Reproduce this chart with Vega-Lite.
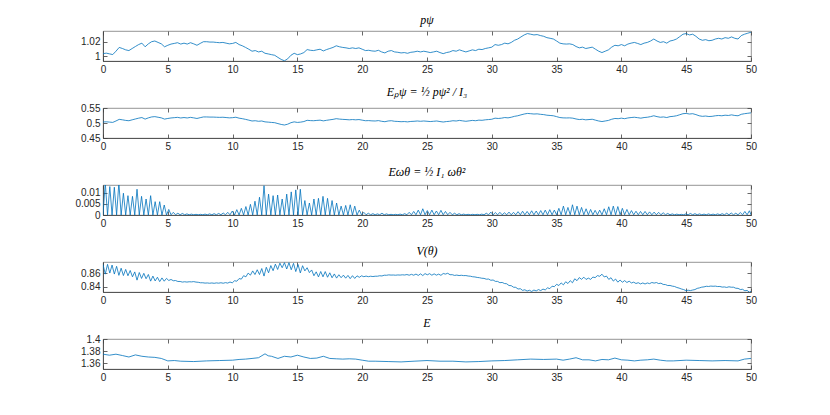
{
  "$schema": "https://vega.github.io/schema/vega-lite/v6.json",
  "autosize": {"type": "none"},
  "padding": {"left": 103, "top": 31, "right": 727, "bottom": 384},
  "background": "white",
  "spacing": 47,
  "bounds": "flush",
  "config": {
    "view": {"stroke": "#7a7a7a", "strokeWidth": 0.8},
    "axis": {
      "grid": false,
      "domainColor": "#404040",
      "domainWidth": 0.8,
      "tickColor": "#404040",
      "tickWidth": 0.8,
      "tickSize": -4,
      "labelPadding": 7,
      "labelColor": "#262626",
      "labelFont": "Liberation Sans",
      "labelFontSize": 10,
      "labelFlush": false,
      "labelOverlap": false,
      "labelBound": false,
      "title": null
    },
    "title": {
      "font": "Liberation Serif",
      "fontStyle": "italic",
      "fontWeight": "normal",
      "fontSize": 12,
      "color": "#000000",
      "offset": 4,
      "anchor": "middle"
    }
  },
  "datasets": {
    "slow": [
      {"t":0,"p":1.0033,"ep":0.5033},{"t":0.25,"p":1.004,"ep":0.504},{"t":0.5,"p":1.003,"ep":0.503},{"t":0.75,"p":1.002,"ep":0.502},
      {"t":1,"p":1.0067,"ep":0.5067},{"t":1.25,"p":1.012,"ep":0.5121},{"t":1.5,"p":1.0105,"ep":0.5106},{"t":1.75,"p":1.0086,"ep":0.5086},
      {"t":2,"p":1.0076,"ep":0.5076},{"t":2.25,"p":1.0105,"ep":0.5106},{"t":2.5,"p":1.0133,"ep":0.5134},{"t":2.75,"p":1.016,"ep":0.5161},
      {"t":3,"p":1.018,"ep":0.5182},{"t":3.25,"p":1.0129,"ep":0.513},{"t":3.5,"p":1.017,"ep":0.5171},{"t":3.75,"p":1.02,"ep":0.5202},
      {"t":4,"p":1.021,"ep":0.5212},{"t":4.25,"p":1.019,"ep":0.5192},{"t":4.5,"p":1.017,"ep":0.5171},{"t":4.75,"p":1.0129,"ep":0.513},
      {"t":5,"p":1.015,"ep":0.5151},{"t":5.25,"p":1.0167,"ep":0.5168},{"t":5.5,"p":1.0176,"ep":0.5178},{"t":5.75,"p":1.0186,"ep":0.5188},
      {"t":6,"p":1.0167,"ep":0.5168},{"t":6.25,"p":1.018,"ep":0.5182},{"t":6.5,"p":1.0167,"ep":0.5168},{"t":6.75,"p":1.0186,"ep":0.5188},
      {"t":7,"p":1.017,"ep":0.5171},{"t":7.25,"p":1.015,"ep":0.5151},{"t":7.5,"p":1.0176,"ep":0.5178},{"t":7.75,"p":1.02,"ep":0.5202},
      {"t":8,"p":1.02,"ep":0.5202},{"t":8.25,"p":1.0195,"ep":0.5197},{"t":8.5,"p":1.0195,"ep":0.5197},{"t":8.75,"p":1.019,"ep":0.5192},
      {"t":9,"p":1.0186,"ep":0.5188},{"t":9.25,"p":1.019,"ep":0.5192},{"t":9.5,"p":1.018,"ep":0.5182},{"t":9.75,"p":1.017,"ep":0.5171},
      {"t":10,"p":1.0176,"ep":0.5178},{"t":10.25,"p":1.019,"ep":0.5192},{"t":10.5,"p":1.016,"ep":0.5161},{"t":10.75,"p":1.0143,"ep":0.5144},
      {"t":11,"p":1.012,"ep":0.5121},{"t":11.25,"p":1.0095,"ep":0.5095},{"t":11.5,"p":1.0067,"ep":0.5067},{"t":11.75,"p":1.0076,"ep":0.5076},
      {"t":12,"p":1.0057,"ep":0.5057},{"t":12.25,"p":1.0067,"ep":0.5067},{"t":12.5,"p":1.0038,"ep":0.5038},{"t":12.75,"p":1.0029,"ep":0.5029},
      {"t":13,"p":1.0019,"ep":0.5019},{"t":13.25,"p":1.001,"ep":0.501},{"t":13.5,"p":0.998,"ep":0.498},{"t":13.75,"p":0.9952,"ep":0.4952},
      {"t":14,"p":0.9933,"ep":0.4933},{"t":14.25,"p":0.996,"ep":0.496},{"t":14.5,"p":1.001,"ep":0.501},{"t":14.75,"p":1.0038,"ep":0.5038},
      {"t":15,"p":1.0019,"ep":0.5019},{"t":15.25,"p":1.0029,"ep":0.5029},{"t":15.5,"p":1.0048,"ep":0.5048},{"t":15.75,"p":1.009,"ep":0.509},
      {"t":16,"p":1.008,"ep":0.508},{"t":16.25,"p":1.0076,"ep":0.5076},{"t":16.5,"p":1.0086,"ep":0.5086},{"t":16.75,"p":1.0095,"ep":0.5095},
      {"t":17,"p":1.0071,"ep":0.5071},{"t":17.25,"p":1.009,"ep":0.509},{"t":17.5,"p":1.0105,"ep":0.5106},{"t":17.75,"p":1.012,"ep":0.5121},
      {"t":18,"p":1.0143,"ep":0.5144},{"t":18.25,"p":1.0129,"ep":0.513},{"t":18.5,"p":1.012,"ep":0.5121},{"t":18.75,"p":1.0114,"ep":0.5115},
      {"t":19,"p":1.0105,"ep":0.5106},{"t":19.25,"p":1.0114,"ep":0.5115},{"t":19.5,"p":1.0105,"ep":0.5106},{"t":19.75,"p":1.0114,"ep":0.5115},
      {"t":20,"p":1.0095,"ep":0.5095},{"t":20.25,"p":1.0076,"ep":0.5076},{"t":20.5,"p":1.008,"ep":0.508},{"t":20.75,"p":1.0071,"ep":0.5071},
      {"t":21,"p":1.0067,"ep":0.5067},{"t":21.25,"p":1.008,"ep":0.508},{"t":21.5,"p":1.0057,"ep":0.5057},{"t":21.75,"p":1.0043,"ep":0.5043},
      {"t":22,"p":1.0067,"ep":0.5067},{"t":22.25,"p":1.0076,"ep":0.5076},{"t":22.5,"p":1.0057,"ep":0.5057},{"t":22.75,"p":1.0052,"ep":0.5052},
      {"t":23,"p":1.0043,"ep":0.5043},{"t":23.25,"p":1.0048,"ep":0.5048},{"t":23.5,"p":1.0038,"ep":0.5038},{"t":23.75,"p":1.0052,"ep":0.5052},
      {"t":24,"p":1.0057,"ep":0.5057},{"t":24.25,"p":1.0067,"ep":0.5067},{"t":24.5,"p":1.0057,"ep":0.5057},{"t":24.75,"p":1.0067,"ep":0.5067},
      {"t":25,"p":1.0058,"ep":0.5058},{"t":25.25,"p":1.0048,"ep":0.5048},{"t":25.5,"p":1.0057,"ep":0.5057},{"t":25.75,"p":1.0067,"ep":0.5067},
      {"t":26,"p":1.0048,"ep":0.5048},{"t":26.25,"p":1.0033,"ep":0.5033},{"t":26.5,"p":1.0048,"ep":0.5048},{"t":26.75,"p":1.0057,"ep":0.5057},
      {"t":27,"p":1.0076,"ep":0.5076},{"t":27.25,"p":1.0067,"ep":0.5067},{"t":27.5,"p":1.0086,"ep":0.5086},{"t":27.75,"p":1.0071,"ep":0.5071},
      {"t":28,"p":1.0057,"ep":0.5057},{"t":28.25,"p":1.0071,"ep":0.5071},{"t":28.5,"p":1.0086,"ep":0.5086},{"t":28.75,"p":1.0076,"ep":0.5076},
      {"t":29,"p":1.0095,"ep":0.5095},{"t":29.25,"p":1.009,"ep":0.509},{"t":29.5,"p":1.0105,"ep":0.5106},{"t":29.75,"p":1.0114,"ep":0.5115},
      {"t":30,"p":1.0124,"ep":0.5125},{"t":30.25,"p":1.016,"ep":0.5161},{"t":30.5,"p":1.015,"ep":0.5151},{"t":30.75,"p":1.016,"ep":0.5161},
      {"t":31,"p":1.018,"ep":0.5182},{"t":31.25,"p":1.017,"ep":0.5171},{"t":31.5,"p":1.019,"ep":0.5192},{"t":31.75,"p":1.022,"ep":0.5222},
      {"t":32,"p":1.0238,"ep":0.5241},{"t":32.25,"p":1.0267,"ep":0.5271},{"t":32.5,"p":1.0295,"ep":0.5299},{"t":32.75,"p":1.0314,"ep":0.5319},
      {"t":33,"p":1.0305,"ep":0.531},{"t":33.25,"p":1.0295,"ep":0.5299},{"t":33.5,"p":1.03,"ep":0.5305},{"t":33.75,"p":1.0286,"ep":0.529},
      {"t":34,"p":1.0276,"ep":0.528},{"t":34.25,"p":1.0257,"ep":0.526},{"t":34.5,"p":1.0248,"ep":0.5251},{"t":34.75,"p":1.0238,"ep":0.5241},
      {"t":35,"p":1.021,"ep":0.5212},{"t":35.25,"p":1.018,"ep":0.5182},{"t":35.5,"p":1.017,"ep":0.5171},{"t":35.75,"p":1.0167,"ep":0.5168},
      {"t":36,"p":1.017,"ep":0.5171},{"t":36.25,"p":1.016,"ep":0.5161},{"t":36.5,"p":1.0133,"ep":0.5134},{"t":36.75,"p":1.0114,"ep":0.5115},
      {"t":37,"p":1.0124,"ep":0.5125},{"t":37.25,"p":1.0105,"ep":0.5106},{"t":37.5,"p":1.0114,"ep":0.5115},{"t":37.75,"p":1.0124,"ep":0.5125},
      {"t":38,"p":1.0095,"ep":0.5095},{"t":38.25,"p":1.0067,"ep":0.5067},{"t":38.5,"p":1.0048,"ep":0.5048},{"t":38.75,"p":1.0067,"ep":0.5067},
      {"t":39,"p":1.0086,"ep":0.5086},{"t":39.25,"p":1.0124,"ep":0.5125},{"t":39.5,"p":1.015,"ep":0.5151},{"t":39.75,"p":1.0143,"ep":0.5144},
      {"t":40,"p":1.016,"ep":0.5161},{"t":40.25,"p":1.0143,"ep":0.5144},{"t":40.5,"p":1.0167,"ep":0.5168},{"t":40.75,"p":1.018,"ep":0.5182},
      {"t":41,"p":1.019,"ep":0.5192},{"t":41.25,"p":1.0176,"ep":0.5178},{"t":41.5,"p":1.016,"ep":0.5161},{"t":41.75,"p":1.018,"ep":0.5182},
      {"t":42,"p":1.019,"ep":0.5192},{"t":42.25,"p":1.021,"ep":0.5212},{"t":42.5,"p":1.0238,"ep":0.5241},{"t":42.75,"p":1.021,"ep":0.5212},
      {"t":43,"p":1.019,"ep":0.5192},{"t":43.25,"p":1.02,"ep":0.5202},{"t":43.5,"p":1.018,"ep":0.5182},{"t":43.75,"p":1.021,"ep":0.5212},
      {"t":44,"p":1.022,"ep":0.5222},{"t":44.25,"p":1.0238,"ep":0.5241},{"t":44.5,"p":1.0271,"ep":0.5275},{"t":44.75,"p":1.0305,"ep":0.531},
      {"t":45,"p":1.0314,"ep":0.5319},{"t":45.25,"p":1.0295,"ep":0.5299},{"t":45.5,"p":1.0305,"ep":0.531},{"t":45.75,"p":1.0276,"ep":0.528},
      {"t":46,"p":1.0238,"ep":0.5241},{"t":46.25,"p":1.022,"ep":0.5222},{"t":46.5,"p":1.0229,"ep":0.5232},{"t":46.75,"p":1.0214,"ep":0.5216},
      {"t":47,"p":1.022,"ep":0.5222},{"t":47.25,"p":1.0238,"ep":0.5241},{"t":47.5,"p":1.0248,"ep":0.5251},{"t":47.75,"p":1.0238,"ep":0.5241},
      {"t":48,"p":1.0257,"ep":0.526},{"t":48.25,"p":1.0248,"ep":0.5251},{"t":48.5,"p":1.0267,"ep":0.5271},{"t":48.75,"p":1.0248,"ep":0.5251},
      {"t":49,"p":1.0238,"ep":0.5241},{"t":49.25,"p":1.0286,"ep":0.529},{"t":49.5,"p":1.0305,"ep":0.531},{"t":49.75,"p":1.0319,"ep":0.5324},
      {"t":50,"p":1.0333,"ep":0.5339}
    ],
    "osc": [
      {"t":0,"w":0,"v":0.873},{"t":0.175,"w":0.0145,"v":0.8585},{"t":0.35,"w":0,"v":0.873},{"t":0.525,"w":0.0128,"v":0.8601},
      {"t":0.7,"w":0,"v":0.872},{"t":0.875,"w":0.0125,"v":0.8586},{"t":1.05,"w":0,"v":0.8701},{"t":1.225,"w":0.0145,"v":0.8567},
      {"t":1.4,"w":0,"v":0.8673},{"t":1.575,"w":0.0098,"v":0.8564},{"t":1.75,"w":0,"v":0.8655},{"t":1.925,"w":0.0087,"v":0.8561},
      {"t":2.1,"w":0,"v":0.8639},{"t":2.275,"w":0.0084,"v":0.8545},{"t":2.45,"w":0,"v":0.8618},{"t":2.625,"w":0.0116,"v":0.8496},
      {"t":2.8,"w":0,"v":0.8609},{"t":2.975,"w":0.0084,"v":0.8521},{"t":3.15,"w":0,"v":0.8597},{"t":3.325,"w":0.0072,"v":0.8517},
      {"t":3.5,"w":0,"v":0.858},{"t":3.675,"w":0.0087,"v":0.8481},{"t":3.85,"w":0,"v":0.8556},{"t":4.025,"w":0.006,"v":0.8484},
      {"t":4.2,"w":0,"v":0.8539},{"t":4.375,"w":0.006,"v":0.8474},{"t":4.55,"w":0,"v":0.8529},{"t":4.725,"w":0.0045,"v":0.848},
      {"t":4.9,"w":0,"v":0.8522},{"t":5.075,"w":0.0025,"v":0.8491},{"t":5.25,"w":0.0001,"v":0.8506},{"t":5.425,"w":0.0012,"v":0.8487},
      {"t":5.6,"w":0.0001,"v":0.849},{"t":5.775,"w":0.0008,"v":0.8476},{"t":5.95,"w":0.0001,"v":0.8476},{"t":6.125,"w":0.0007,"v":0.8467},
      {"t":6.3,"w":0.0001,"v":0.8472},{"t":6.475,"w":0.0005,"v":0.8467},{"t":6.65,"w":0.0001,"v":0.8472},{"t":6.825,"w":0.0004,"v":0.847},
      {"t":7,"w":0.0001,"v":0.8474},{"t":7.175,"w":0.0003,"v":0.8467},{"t":7.35,"w":0.0001,"v":0.8464},{"t":7.525,"w":0.0003,"v":0.8457},
      {"t":7.7,"w":0.0001,"v":0.8457},{"t":7.875,"w":0.0004,"v":0.8452},{"t":8.05,"w":0.0001,"v":0.8454},{"t":8.225,"w":0.0005,"v":0.845},
      {"t":8.4,"w":0.0001,"v":0.8454},{"t":8.575,"w":0.0006,"v":0.8449},{"t":8.75,"w":0.0001,"v":0.8455},{"t":8.925,"w":0.0007,"v":0.8451},
      {"t":9.1,"w":0.0001,"v":0.8457},{"t":9.275,"w":0.0009,"v":0.845},{"t":9.45,"w":0.0001,"v":0.8459},{"t":9.625,"w":0.0012,"v":0.8452},
      {"t":9.8,"w":0.0001,"v":0.8468},{"t":9.975,"w":0.0018,"v":0.8456},{"t":10.15,"w":0,"v":0.8487},{"t":10.325,"w":0.0024,"v":0.848},
      {"t":10.5,"w":0,"v":0.8519},{"t":10.675,"w":0.003,"v":0.8511},{"t":10.85,"w":0,"v":0.8562},{"t":11.025,"w":0.0038,"v":0.8545},
      {"t":11.2,"w":0,"v":0.86},{"t":11.375,"w":0.0048,"v":0.857},{"t":11.55,"w":0,"v":0.8633},{"t":11.725,"w":0.0062,"v":0.8579},
      {"t":11.9,"w":0,"v":0.865},{"t":12.075,"w":0.008,"v":0.8579},{"t":12.25,"w":0,"v":0.8668},{"t":12.425,"w":0.0132,"v":0.8556},
      {"t":12.6,"w":0,"v":0.8687},{"t":12.775,"w":0.0094,"v":0.8605},{"t":12.95,"w":0,"v":0.8712},{"t":13.125,"w":0.0087,"v":0.8636},
      {"t":13.3,"w":0,"v":0.8733},{"t":13.475,"w":0.009,"v":0.8654},{"t":13.65,"w":0,"v":0.8748},{"t":13.825,"w":0.0072,"v":0.868},
      {"t":14,"w":0,"v":0.8755},{"t":14.175,"w":0.0094,"v":0.8661},{"t":14.35,"w":0,"v":0.8755},{"t":14.525,"w":0.0104,"v":0.865},
      {"t":14.7,"w":0,"v":0.8745},{"t":14.875,"w":0.0113,"v":0.8623},{"t":15.05,"w":0,"v":0.8728},{"t":15.225,"w":0.0116,"v":0.8603},
      {"t":15.4,"w":0,"v":0.871},{"t":15.575,"w":0.0065,"v":0.8633},{"t":15.75,"w":0,"v":0.868},{"t":15.925,"w":0.0054,"v":0.8608},
      {"t":16.1,"w":0,"v":0.8647},{"t":16.275,"w":0.0072,"v":0.8561},{"t":16.45,"w":0,"v":0.8619},{"t":16.625,"w":0.0075,"v":0.8544},
      {"t":16.8,"w":0,"v":0.8624},{"t":16.975,"w":0.0084,"v":0.8545},{"t":17.15,"w":0,"v":0.8623},{"t":17.325,"w":0.0075,"v":0.8539},
      {"t":17.5,"w":0,"v":0.8605},{"t":17.675,"w":0.0065,"v":0.8531},{"t":17.85,"w":0,"v":0.8588},{"t":18.025,"w":0.0054,"v":0.8526},
      {"t":18.2,"w":0,"v":0.8576},{"t":18.375,"w":0.004,"v":0.8532},{"t":18.55,"w":0,"v":0.857},{"t":18.725,"w":0.0043,"v":0.8525},
      {"t":18.9,"w":0,"v":0.8566},{"t":19.075,"w":0.0046,"v":0.8518},{"t":19.25,"w":0,"v":0.8562},{"t":19.425,"w":0.004,"v":0.8521},
      {"t":19.6,"w":0,"v":0.856},{"t":19.775,"w":0.0022,"v":0.8538},{"t":19.95,"w":0.0001,"v":0.856},{"t":20.125,"w":0.0012,"v":0.8547},
      {"t":20.3,"w":0.0001,"v":0.8556},{"t":20.475,"w":0.0008,"v":0.8547},{"t":20.65,"w":0.0001,"v":0.8554},{"t":20.825,"w":0.0006,"v":0.8549},
      {"t":21,"w":0.0001,"v":0.8554},{"t":21.175,"w":0.0005,"v":0.8554},{"t":21.35,"w":0.0001,"v":0.8561},{"t":21.525,"w":0.0008,"v":0.8558},
      {"t":21.7,"w":0.0001,"v":0.8569},{"t":21.875,"w":0.0005,"v":0.8568},{"t":22.05,"w":0.0001,"v":0.8574},{"t":22.225,"w":0.0003,"v":0.8571},
      {"t":22.4,"w":0.0001,"v":0.8572},{"t":22.575,"w":0.0003,"v":0.8569},{"t":22.75,"w":0.0001,"v":0.8573},{"t":22.925,"w":0.0004,"v":0.8571},
      {"t":23.1,"w":0.0001,"v":0.8575},{"t":23.275,"w":0.0006,"v":0.8572},{"t":23.45,"w":0.0001,"v":0.8579},{"t":23.625,"w":0.0012,"v":0.8569},
      {"t":23.8,"w":0.0001,"v":0.8582},{"t":23.975,"w":0.0016,"v":0.8569},{"t":24.15,"w":0.0001,"v":0.8586},{"t":24.325,"w":0.0022,"v":0.8566},
      {"t":24.5,"w":0.0001,"v":0.8589},{"t":24.675,"w":0.0028,"v":0.8564},{"t":24.85,"w":0.0001,"v":0.8593},{"t":25.025,"w":0.002,"v":0.8575},
      {"t":25.2,"w":0.0001,"v":0.8592},{"t":25.375,"w":0.0022,"v":0.8569},{"t":25.55,"w":0.0001,"v":0.8589},{"t":25.725,"w":0.0018,"v":0.857},
      {"t":25.9,"w":0.0001,"v":0.8585},{"t":26.075,"w":0.0021,"v":0.8567},{"t":26.25,"w":0.0001,"v":0.8594},{"t":26.425,"w":0.0016,"v":0.8586},
      {"t":26.6,"w":0.0001,"v":0.8598},{"t":26.775,"w":0.0012,"v":0.8576},{"t":26.95,"w":0.0001,"v":0.8577},{"t":27.125,"w":0.0008,"v":0.8566},
      {"t":27.3,"w":0.0001,"v":0.8571},{"t":27.475,"w":0.0006,"v":0.8564},{"t":27.65,"w":0.0001,"v":0.8568},{"t":27.825,"w":0.0004,"v":0.8563},
      {"t":28,"w":0.0001,"v":0.8564},{"t":28.175,"w":0.0003,"v":0.8557},{"t":28.35,"w":0.0001,"v":0.8554},{"t":28.525,"w":0.0003,"v":0.8546},
      {"t":28.7,"w":0.0001,"v":0.8543},{"t":28.875,"w":0.0003,"v":0.8536},{"t":29.05,"w":0.0001,"v":0.8532},{"t":29.225,"w":0.0004,"v":0.8524},
      {"t":29.4,"w":0.0001,"v":0.8522},{"t":29.575,"w":0.0008,"v":0.851},{"t":29.75,"w":0.0001,"v":0.8512},{"t":29.925,"w":0.0013,"v":0.8494},
      {"t":30.1,"w":0.0001,"v":0.8498},{"t":30.275,"w":0.0011,"v":0.8478},{"t":30.45,"w":0.0001,"v":0.8477},{"t":30.625,"w":0.0012,"v":0.8458},
      {"t":30.8,"w":0.0001,"v":0.8462},{"t":30.975,"w":0.001,"v":0.8446},{"t":31.15,"w":0.0001,"v":0.8442},{"t":31.325,"w":0.0013,"v":0.8416},
      {"t":31.5,"w":0.0001,"v":0.8414},{"t":31.675,"w":0.0012,"v":0.8391},{"t":31.85,"w":0.0001,"v":0.8389},{"t":32.025,"w":0.0015,"v":0.8364},
      {"t":32.2,"w":0.0001,"v":0.8369},{"t":32.375,"w":0.0017,"v":0.8344},{"t":32.55,"w":0.0001,"v":0.8353},{"t":32.725,"w":0.0016,"v":0.8334},
      {"t":32.9,"w":0.0001,"v":0.8346},{"t":33.075,"w":0.0019,"v":0.8328},{"t":33.25,"w":0.0001,"v":0.8349},{"t":33.425,"w":0.0018,"v":0.8336},
      {"t":33.6,"w":0.0001,"v":0.8356},{"t":33.775,"w":0.002,"v":0.8341},{"t":33.95,"w":0.0001,"v":0.8363},{"t":34.125,"w":0.0022,"v":0.8351},
      {"t":34.3,"w":0.0001,"v":0.8382},{"t":34.475,"w":0.0024,"v":0.837},{"t":34.65,"w":0.0001,"v":0.8406},{"t":34.825,"w":0.0022,"v":0.8399},
      {"t":35,"w":0.0001,"v":0.8434},{"t":35.175,"w":0.003,"v":0.8416},{"t":35.35,"w":0.0001,"v":0.8455},{"t":35.525,"w":0.004,"v":0.8426},
      {"t":35.7,"w":0.0001,"v":0.8472},{"t":35.875,"w":0.0034,"v":0.8446},{"t":36.05,"w":0.0001,"v":0.8488},{"t":36.225,"w":0.0046,"v":0.8457},
      {"t":36.4,"w":0.0001,"v":0.8516},{"t":36.575,"w":0.004,"v":0.8488},{"t":36.75,"w":0.0001,"v":0.8534},{"t":36.925,"w":0.0034,"v":0.8508},
      {"t":37.1,"w":0.0001,"v":0.854},{"t":37.275,"w":0.0028,"v":0.8506},{"t":37.45,"w":0.0001,"v":0.8526},{"t":37.625,"w":0.0025,"v":0.8507},
      {"t":37.8,"w":0.0001,"v":0.8542},{"t":37.975,"w":0.0021,"v":0.8533},{"t":38.15,"w":0.0001,"v":0.8563},{"t":38.325,"w":0.0022,"v":0.8553},
      {"t":38.5,"w":0.0001,"v":0.8584},{"t":38.675,"w":0.0028,"v":0.8543},{"t":38.85,"w":0.0001,"v":0.8556},{"t":39.025,"w":0.0037,"v":0.8507},
      {"t":39.2,"w":0.0001,"v":0.8532},{"t":39.375,"w":0.004,"v":0.8482},{"t":39.55,"w":0.0001,"v":0.8512},{"t":39.725,"w":0.0038,"v":0.8466},
      {"t":39.9,"w":0.0001,"v":0.8498},{"t":40.075,"w":0.003,"v":0.8464},{"t":40.25,"w":0.0001,"v":0.8489},{"t":40.425,"w":0.0025,"v":0.8461},
      {"t":40.6,"w":0.0001,"v":0.848},{"t":40.775,"w":0.002,"v":0.8454},{"t":40.95,"w":0.0001,"v":0.8466},{"t":41.125,"w":0.0017,"v":0.8446},
      {"t":41.3,"w":0.0001,"v":0.8458},{"t":41.475,"w":0.0016,"v":0.844},{"t":41.65,"w":0.0001,"v":0.8454},{"t":41.825,"w":0.0016,"v":0.8439},
      {"t":42,"w":0.0001,"v":0.8454},{"t":42.175,"w":0.0014,"v":0.8444},{"t":42.35,"w":0.0001,"v":0.8461},{"t":42.525,"w":0.0013,"v":0.8452},
      {"t":42.7,"w":0.0001,"v":0.846},{"t":42.875,"w":0.0012,"v":0.8445},{"t":43.05,"w":0.0001,"v":0.8451},{"t":43.225,"w":0.001,"v":0.8432},
      {"t":43.4,"w":0.0001,"v":0.843},{"t":43.575,"w":0.0007,"v":0.8416},{"t":43.75,"w":0.0001,"v":0.8417},{"t":43.925,"w":0.0005,"v":0.8407},
      {"t":44.1,"w":0.0001,"v":0.8402},{"t":44.275,"w":0.0004,"v":0.8387},{"t":44.45,"w":0.0001,"v":0.8378},{"t":44.625,"w":0.0003,"v":0.8365},
      {"t":44.8,"w":0.0001,"v":0.8356},{"t":44.975,"w":0.0005,"v":0.8341},{"t":45.15,"w":0.0001,"v":0.8346},{"t":45.325,"w":0.0007,"v":0.8341},
      {"t":45.5,"w":0.0001,"v":0.8349},{"t":45.675,"w":0.0006,"v":0.8356},{"t":45.85,"w":0.0001,"v":0.8374},{"t":46.025,"w":0.0005,"v":0.8381},
      {"t":46.2,"w":0.0001,"v":0.8392},{"t":46.375,"w":0.0004,"v":0.8396},{"t":46.55,"w":0.0001,"v":0.8405},{"t":46.725,"w":0.0005,"v":0.8402},
      {"t":46.9,"w":0.0001,"v":0.8408},{"t":47.075,"w":0.0004,"v":0.8405},{"t":47.25,"w":0.0001,"v":0.8407},{"t":47.425,"w":0.0005,"v":0.8401},
      {"t":47.6,"w":0.0001,"v":0.8402},{"t":47.775,"w":0.0006,"v":0.8393},{"t":47.95,"w":0.0001,"v":0.8395},{"t":48.125,"w":0.0008,"v":0.8388},
      {"t":48.3,"w":0.0001,"v":0.8397},{"t":48.475,"w":0.0009,"v":0.8391},{"t":48.65,"w":0.0001,"v":0.8391},{"t":48.825,"w":0.0008,"v":0.8376},
      {"t":49,"w":0.0001,"v":0.8374},{"t":49.175,"w":0.0011,"v":0.8357},{"t":49.35,"w":0.0001,"v":0.836},{"t":49.525,"w":0.0016,"v":0.8338},
      {"t":49.7,"w":0.0001,"v":0.8344},{"t":49.875,"w":0.0019,"v":0.8317},{"t":50,"w":0.0001,"v":0.833}
    ],
    "energy": [
      {"t":0,"e":1.3747},{"t":0.5,"e":1.373},{"t":1,"e":1.3747},{"t":1.5,"e":1.3724},{"t":2,"e":1.37},{"t":2.5,"e":1.3735},
      {"t":3,"e":1.3712},{"t":3.5,"e":1.37},{"t":4,"e":1.3694},{"t":4.5,"e":1.3676},{"t":5,"e":1.3635},{"t":5.5,"e":1.3641},
      {"t":6,"e":1.363},{"t":7,"e":1.3624},{"t":8,"e":1.3635},{"t":9,"e":1.3641},{"t":10,"e":1.3647},{"t":10.5,"e":1.3659},
      {"t":11,"e":1.3665},{"t":11.5,"e":1.3676},{"t":12,"e":1.3688},{"t":12.5,"e":1.3753},{"t":12.75,"e":1.372},{"t":13,"e":1.3712},
      {"t":13.5,"e":1.3676},{"t":14,"e":1.3712},{"t":14.5,"e":1.37},{"t":15,"e":1.373},{"t":15.5,"e":1.37},{"t":16,"e":1.3676},
      {"t":16.5,"e":1.3682},{"t":17,"e":1.3712},{"t":17.5,"e":1.3676},{"t":18,"e":1.367},{"t":18.5,"e":1.3665},{"t":19,"e":1.367},
      {"t":19.5,"e":1.3665},{"t":20,"e":1.3647},{"t":20.5,"e":1.363},{"t":21,"e":1.363},{"t":22,"e":1.3624},{"t":23,"e":1.3618},
      {"t":24,"e":1.363},{"t":25,"e":1.3641},{"t":26,"e":1.363},{"t":27,"e":1.363},{"t":28,"e":1.3618},{"t":29,"e":1.3624},
      {"t":30,"e":1.3635},{"t":31,"e":1.3641},{"t":32,"e":1.3653},{"t":33,"e":1.3665},{"t":34,"e":1.3659},{"t":35,"e":1.3665},
      {"t":35.5,"e":1.3647},{"t":36,"e":1.3665},{"t":36.5,"e":1.3688},{"t":37,"e":1.3653},{"t":37.5,"e":1.3653},{"t":38,"e":1.3635},
      {"t":38.5,"e":1.3659},{"t":39,"e":1.3653},{"t":39.5,"e":1.3682},{"t":40,"e":1.3653},{"t":40.5,"e":1.3647},{"t":41,"e":1.3635},
      {"t":41.5,"e":1.3647},{"t":42,"e":1.3653},{"t":42.5,"e":1.3665},{"t":43,"e":1.3647},{"t":43.5,"e":1.3635},{"t":44,"e":1.3635},
      {"t":45,"e":1.3647},{"t":46,"e":1.3641},{"t":47,"e":1.3635},{"t":48,"e":1.3641},{"t":49,"e":1.3635},{"t":49.5,"e":1.3665},
      {"t":50,"e":1.3676}
    ]
  },
  "vconcat": [
    {
      "width": 648, "height": 30,
      "title": "pψ",
      "data": {"name": "slow"},
      "layer": [
        {"mark": {"type": "line", "color": "#0072BD", "strokeWidth": 0.8, "clip": true},
         "encoding": {
           "x": {"field": "t", "type": "quantitative", "scale": {"domain": [0, 50], "nice": false}, "axis": {"values": [0,5,10,15,20,25,30,35,40,45,50], "format": "d"}},
           "y": {"field": "p", "type": "quantitative", "scale": {"domain": [0.993, 1.035], "nice": false, "zero": false}, "axis": {"values": [1, 1.02], "format": "~g"}}}},
        {"mark": {"type": "line", "opacity": 0},
         "encoding": {
           "x": {"field": "t", "type": "quantitative", "axis": {"orient": "top", "labels": false, "domain": false, "values": [0,5,10,15,20,25,30,35,40,45,50]}},
           "y": {"field": "p", "type": "quantitative", "axis": {"orient": "right", "labels": false, "domain": false, "values": [1, 1.02]}}}}
      ],
      "resolve": {"axis": {"x": "independent", "y": "independent"}}
    },
    {
      "width": 648, "height": 30,
      "title": "Eₚψ = ½ pψ² / I₃",
      "data": {"name": "slow"},
      "layer": [
        {"mark": {"type": "line", "color": "#0072BD", "strokeWidth": 0.8, "clip": true},
         "encoding": {
           "x": {"field": "t", "type": "quantitative", "scale": {"domain": [0, 50], "nice": false}, "axis": {"values": [0,5,10,15,20,25,30,35,40,45,50], "format": "d"}},
           "y": {"field": "ep", "type": "quantitative", "scale": {"domain": [0.45, 0.55], "nice": false, "zero": false}, "axis": {"values": [0.45, 0.5, 0.55], "format": "~g"}}}},
        {"mark": {"type": "line", "opacity": 0},
         "encoding": {
           "x": {"field": "t", "type": "quantitative", "axis": {"orient": "top", "labels": false, "domain": false, "values": [0,5,10,15,20,25,30,35,40,45,50]}},
           "y": {"field": "ep", "type": "quantitative", "axis": {"orient": "right", "labels": false, "domain": false, "values": [0.45, 0.5, 0.55]}}}}
      ],
      "resolve": {"axis": {"x": "independent", "y": "independent"}}
    },
    {
      "width": 648, "height": 30,
      "title": "Eωθ = ½ I₁ ωθ²",
      "data": {"name": "osc"},
      "layer": [
        {"mark": {"type": "line", "color": "#0072BD", "strokeWidth": 0.8, "clip": true},
         "encoding": {
           "x": {"field": "t", "type": "quantitative", "scale": {"domain": [0, 50], "nice": false}, "axis": {"values": [0,5,10,15,20,25,30,35,40,45,50], "format": "d"}},
           "y": {"field": "w", "type": "quantitative", "scale": {"domain": [0, 0.0135], "nice": false}, "axis": {"values": [0, 0.005, 0.01], "format": "~g"}}}},
        {"mark": {"type": "line", "opacity": 0},
         "encoding": {
           "x": {"field": "t", "type": "quantitative", "axis": {"orient": "top", "labels": false, "domain": false, "values": [0,5,10,15,20,25,30,35,40,45,50]}},
           "y": {"field": "w", "type": "quantitative", "axis": {"orient": "right", "labels": false, "domain": false, "values": [0, 0.005, 0.01]}}}}
      ],
      "resolve": {"axis": {"x": "independent", "y": "independent"}}
    },
    {
      "width": 648, "height": 30,
      "title": "V(θ)",
      "data": {"name": "osc"},
      "layer": [
        {"mark": {"type": "line", "color": "#0072BD", "strokeWidth": 0.8, "clip": true},
         "encoding": {
           "x": {"field": "t", "type": "quantitative", "scale": {"domain": [0, 50], "nice": false}, "axis": {"values": [0,5,10,15,20,25,30,35,40,45,50], "format": "d"}},
           "y": {"field": "v", "type": "quantitative", "scale": {"domain": [0.832, 0.8765], "nice": false, "zero": false}, "axis": {"values": [0.84, 0.86], "format": "~g"}}}},
        {"mark": {"type": "line", "opacity": 0},
         "encoding": {
           "x": {"field": "t", "type": "quantitative", "axis": {"orient": "top", "labels": false, "domain": false, "values": [0,5,10,15,20,25,30,35,40,45,50]}},
           "y": {"field": "v", "type": "quantitative", "axis": {"orient": "right", "labels": false, "domain": false, "values": [0.84, 0.86]}}}}
      ],
      "resolve": {"axis": {"x": "independent", "y": "independent"}}
    },
    {
      "width": 648, "height": 30,
      "title": "E",
      "data": {"name": "energy"},
      "layer": [
        {"mark": {"type": "line", "color": "#0072BD", "strokeWidth": 0.8, "clip": true},
         "encoding": {
           "x": {"field": "t", "type": "quantitative", "scale": {"domain": [0, 50], "nice": false}, "axis": {"values": [0,5,10,15,20,25,30,35,40,45,50], "format": "d"}},
           "y": {"field": "e", "type": "quantitative", "scale": {"domain": [1.35, 1.4], "nice": false, "zero": false}, "axis": {"values": [1.36, 1.38, 1.4], "format": "~g"}}}},
        {"mark": {"type": "line", "opacity": 0},
         "encoding": {
           "x": {"field": "t", "type": "quantitative", "axis": {"orient": "top", "labels": false, "domain": false, "values": [0,5,10,15,20,25,30,35,40,45,50]}},
           "y": {"field": "e", "type": "quantitative", "axis": {"orient": "right", "labels": false, "domain": false, "values": [1.36, 1.38, 1.4]}}}}
      ],
      "resolve": {"axis": {"x": "independent", "y": "independent"}}
    }
  ]
}
